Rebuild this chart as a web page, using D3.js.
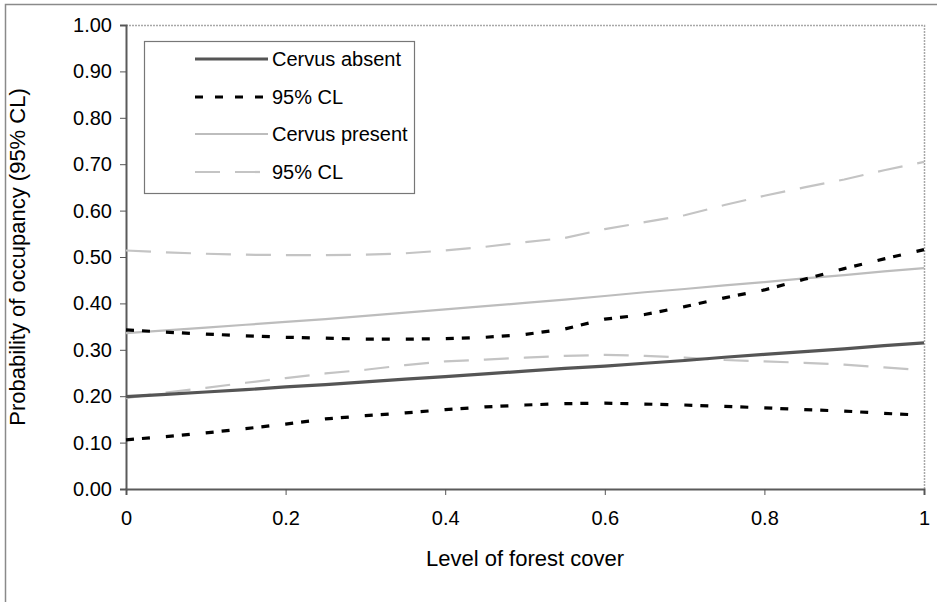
<!DOCTYPE html>
<html>
<head>
<meta charset="utf-8">
<script src="https://cdn.jsdelivr.net/npm/d3@7"></script>
<style>
  html, body { margin: 0; padding: 0; background: #fff; }
  svg { display: block; font-family: "Liberation Sans", Arial, sans-serif; }
</style>
</head>
<body>
<svg id="chart" width="937" height="602"></svg>
<script>
// ---- data ----
const forestCover = [0, 0.05, 0.1, 0.15, 0.2, 0.25, 0.3, 0.35, 0.4, 0.45, 0.5,
                     0.55, 0.6, 0.65, 0.7, 0.75, 0.8, 0.85, 0.9, 0.95, 1];
const absentMean  = [0.199, 0.204, 0.209, 0.214, 0.220, 0.225, 0.231, 0.237, 0.242, 0.248, 0.254,
                     0.260, 0.265, 0.271, 0.277, 0.284, 0.290, 0.296, 0.302, 0.309, 0.315];
const absentLower = [0.106, 0.113, 0.121, 0.130, 0.140, 0.151, 0.158, 0.164, 0.171, 0.177, 0.181,
                     0.184, 0.185, 0.183, 0.181, 0.178, 0.175, 0.171, 0.168, 0.163, 0.159];
const absentUpper = [0.343, 0.338, 0.334, 0.330, 0.327, 0.325, 0.323, 0.323, 0.324, 0.327, 0.333,
                     0.345, 0.366, 0.376, 0.393, 0.412, 0.429, 0.452, 0.475, 0.496, 0.516];
const presentMean = [0.336, 0.342, 0.348, 0.354, 0.360, 0.366, 0.373, 0.380, 0.387, 0.394, 0.401,
                     0.408, 0.416, 0.424, 0.431, 0.439, 0.446, 0.454, 0.461, 0.469, 0.476];
const presentLower= [0.196, 0.208, 0.218, 0.229, 0.239, 0.249, 0.257, 0.267, 0.275, 0.279, 0.283,
                     0.287, 0.289, 0.287, 0.283, 0.278, 0.275, 0.272, 0.268, 0.262, 0.256];
const presentUpper= [0.514, 0.510, 0.507, 0.505, 0.504, 0.504, 0.505, 0.508, 0.514, 0.522, 0.532,
                     0.541, 0.560, 0.575, 0.590, 0.612, 0.632, 0.650, 0.667, 0.687, 0.705];
const xTicks = [0, 0.2, 0.4, 0.6, 0.8, 1];
const yTicks = [0, 0.1, 0.2, 0.3, 0.4, 0.5, 0.6, 0.7, 0.8, 0.9, 1.0];
const legendLabels = ["Cervus absent", "95% CL", "Cervus present", "95% CL"];

// ---- layout ----
const svg = d3.select("#chart");
const pL = 126, pR = 924, pT = 25, pB = 489;
const x = d3.scaleLinear().domain([0, 1]).range([pL, pR]);
const y = d3.scaleLinear().domain([0, 1]).range([pB, pT]);
const FONT = "'Liberation Sans', Arial, sans-serif";

// outer frame
svg.append("path")
  .attr("d", `M5.5,610 L5.5,4.5 L945,4.5`)
  .attr("fill", "none").attr("stroke", "#8a8a8a").attr("stroke-width", 1.5);

// plot border (top & right)
svg.append("path")
  .attr("d", `M${pL},${pT + 0.5} L${pR + 0.5},${pT + 0.5} L${pR + 0.5},${pB}`)
  .attr("fill", "none").attr("stroke", "#a8a8a8").attr("stroke-width", 1.5)
  .attr("stroke-dasharray", "2,1");

// axes
const yAxis = d3.axisLeft(y).tickValues(yTicks).tickFormat(d3.format(".2f")).tickSize(6).tickPadding(8);
const xAxis = d3.axisBottom(x).tickValues(xTicks).tickFormat(d => String(d)).tickSize(6).tickPadding(16);

const gy = svg.append("g").attr("transform", `translate(${pL},0)`).call(yAxis);
const gx = svg.append("g").attr("transform", `translate(0,${pB})`).call(xAxis);
[gx, gy].forEach(g => {
  g.attr("font-size", null).attr("font-family", null);
  g.select(".domain").attr("stroke", "#5a5a5a").attr("stroke-width", 2);
  g.selectAll(".tick line").attr("stroke", "#555").attr("stroke-width", 1);
  g.selectAll(".tick text").attr("fill", "#000").style("font-size", "20px")
    .style("font-family", FONT);
});

// axis titles
svg.append("text")
  .attr("x", 525).attr("y", 566)
  .attr("text-anchor", "middle").style("font-size", "22px").style("font-family", FONT).attr("fill", "#000")
  .text("Level of forest cover");
svg.append("text")
  .attr("transform", `translate(25,${(pT + pB) / 2}) rotate(-90)`)
  .attr("text-anchor", "middle").style("font-size", "22px").style("font-family", FONT).attr("fill", "#000")
  .text("Probability of occupancy (95% CL)");

// series
const series = [
  { vals: presentUpper, stroke: "#c4c4c4", width: 2.2, dash: "25,15" },
  { vals: presentLower, stroke: "#c4c4c4", width: 2.2, dash: "25,15" },
  { vals: presentMean,  stroke: "#bdbdbd", width: 2.2, dash: null },
  { vals: absentUpper,  stroke: "#000000", width: 3.2, dash: "8,8,8,16" },
  { vals: absentLower,  stroke: "#000000", width: 3.2, dash: "8,8,8,16" },
  { vals: absentMean,   stroke: "#555555", width: 3.2, dash: null }
];
const line = d3.line().x(d => x(d[0])).y(d => y(d[1]));
series.forEach(s => {
  svg.append("path")
    .datum(forestCover.map((c, i) => [c, s.vals[i]]))
    .attr("d", line)
    .attr("fill", "none")
    .attr("stroke", s.stroke)
    .attr("stroke-width", s.width)
    .attr("stroke-dasharray", s.dash);
});

// legend
const lg = svg.append("g");
lg.append("rect").attr("x", 144.5).attr("y", 41.5).attr("width", 270).attr("height", 152)
  .attr("fill", "#fff").attr("stroke", "#777").attr("stroke-width", 1.2);
const legendStyles = [
  { stroke: "#555555", width: 3.2, dash: null },
  { stroke: "#000000", width: 3.2, dash: "8,12" },
  { stroke: "#bdbdbd", width: 2.2, dash: null },
  { stroke: "#c4c4c4", width: 2.2, dash: "25,15" }
];
const legendY = [59, 97, 134, 172];
legendLabels.forEach((lab, i) => {
  const st = legendStyles[i];
  lg.append("line").attr("x1", 195).attr("x2", 268)
    .attr("y1", legendY[i]).attr("y2", legendY[i])
    .attr("stroke", st.stroke).attr("stroke-width", st.width)
    .attr("stroke-dasharray", st.dash);
  lg.append("text").attr("x", 272).attr("y", legendY[i]).attr("dy", "0.35em")
    .style("font-size", "20px").style("font-family", FONT).attr("fill", "#000").text(lab);
});
</script>
</body>
</html>
